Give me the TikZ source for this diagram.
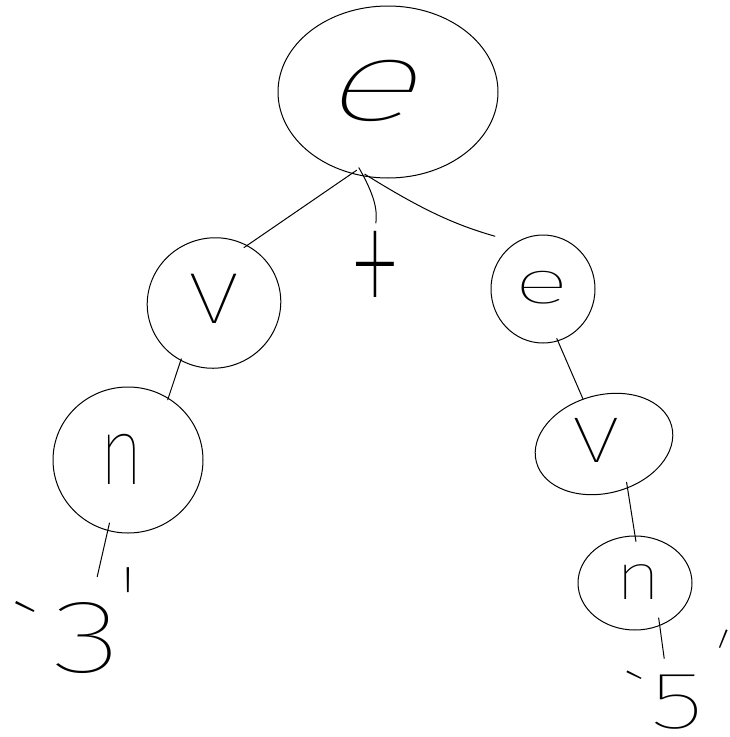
\documentclass[tikz,border=0pt]{standalone}
\usepackage{graphicx}
\usepackage{fontspec}
\IfFontExistsTF{Fira Sans Thin}{\def\handname{Fira Sans Thin}}{%
  \IfFontExistsTF{Fira Sans ExtraLight}{\def\handname{Fira Sans ExtraLight}}{%
    \IfFontExistsTF{Poppins Thin}{\def\handname{Poppins Thin}}{%
      \IfFontExistsTF{Fira Sans Light}{\def\handname{Fira Sans Light}}{\def\handname{Fira Sans}}}}}
\newfontfamily\hand{\handname}
\newfontfamily\handsl{\handname}[FakeSlant=0.22]
\usetikzlibrary{shapes.geometric}
\tikzset{
  tnode/.style={ellipse, draw, inner sep=0pt},
  edge/.style={line width=1pt, line cap=round},
  lbl/.style={inner sep=0pt},
}
\begin{document}
\begin{tikzpicture}[x=1pt,y=-1pt,line width=1pt]
\useasboundingbox (0,0) rectangle (730,737);
% nodes
\node[tnode, minimum width=220pt, minimum height=172pt] (root) at (388,92)
  {\fontsize{114}{114}\handsl\hspace{-40pt}\raisebox{4pt}{\scalebox{1.55}[1]{e}}};
\node[tnode, minimum width=134pt, minimum height=130pt, rotate=20] (lv) at (214,303)
  {\rotatebox{-20}{\fontsize{95}{95}\hand\raisebox{8pt}{\scalebox{1.2}[1]{v}}}};
\node[tnode, minimum width=150pt, minimum height=146pt] (ln) at (128,460)
  {\fontsize{95}{95}\hand\hspace{-12pt}\raisebox{2pt}{\scalebox{0.8}[1]{n}}};
\node[tnode, minimum width=104pt, minimum height=108pt] (re) at (543,289)
  {\fontsize{61}{61}\hand\hspace{-2pt}\raisebox{4pt}{\scalebox{1.7}[1]{e}}};
\node[tnode, minimum width=140pt, minimum height=98pt, rotate=15] (rv) at (604,444)
  {\rotatebox{-15}{\fontsize{85}{85}\hand\hspace{-16pt}\raisebox{8pt}{\scalebox{1.25}[1]{v}}}};
\node[tnode, minimum width=114pt, minimum height=94pt] (rn) at (635,583)
  {\fontsize{66}{66}\hand\hspace{8pt}\raisebox{2pt}{\scalebox{1.2}[1]{n}}};
\node[lbl] (plus) at (375,281) {\fontsize{100}{100}\hand\scalebox{1.15}[2.0]{+}};
\node[lbl] (three) at (87,638) {\fontsize{104}{104}\hand
  \llap{\smash{\raisebox{-8pt}{\textasciigrave}}\hspace{14pt}}\scalebox{1.4}[1]{3}\rlap{\hspace{-3pt}\smash{\raisebox{34pt}{\textquotesingle}}}};
\node[lbl] (five) at (677,702) {\fontsize{81}{81}\hand
  \llap{\smash{\raisebox{-4pt}{\textasciigrave}}\hspace{6pt}}\scalebox{1.4}[1]{5}\rlap{\hspace{-4pt}\smash{\raisebox{50pt}{\rotatebox{-22}{\textquotesingle}}}}};
% connectors
\draw[edge, shorten <=-6pt, shorten >=-4pt] (root.246) -- (lv.40);
\draw[edge, shorten <=-10pt, shorten >=8pt] (root.254) to[bend left=18] (plus.north);
\draw[edge, shorten <=-6pt, shorten >=22pt] (root.258) to[bend right=8] (re.120);
\draw[edge, shorten <=-2pt, shorten >=-2pt] (lv.220) -- (ln.57);
\draw[edge, shorten <=-8pt, shorten >=26pt] (ln.254) -- (three.83);
\draw[edge, shorten <=-3pt] (re.286) -- (rv.100);
\draw[edge, shorten <=-6pt, shorten >=-6pt] (rv.283) -- (rn.90);
\draw[edge, shorten <=-8pt, shorten >=16pt] (rn.300) -- (five.111);
\end{tikzpicture}
\end{document}
